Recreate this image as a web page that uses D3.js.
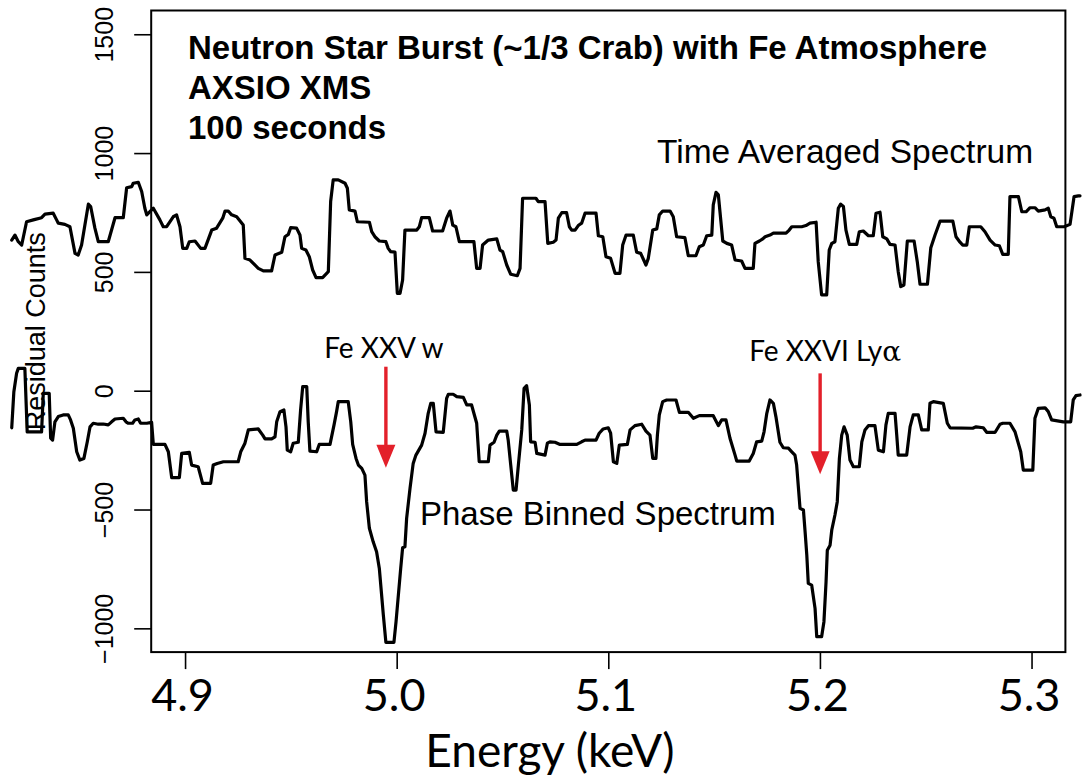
<!DOCTYPE html>
<html>
<head>
<meta charset="utf-8">
<script src="https://cdn.jsdelivr.net/npm/d3@7"></script>
<style>
  html, body { margin: 0; padding: 0; background: #fff; }
  svg { display: block; }
</style>
</head>
<body>
<svg id="chart" width="1087" height="779"></svg>
<script>
// Time-averaged residual spectrum (energy in keV, residual counts)
const timeAvgEnergy = [4.8181,4.8196,4.8212,4.8228,4.8251,4.8283,4.8322,4.8338,4.8377,4.8393,
  4.8401,4.8432,4.8456,4.8480,4.8495,4.8511,4.8543,4.8554,4.8574,4.8590,
  4.8637,4.8669,4.8708,4.8724,4.8748,4.8755,4.8779,4.8795,4.8810,4.8819,
  4.8850,4.8881,4.8897,4.8913,4.8944,4.8960,4.8976,4.8989,4.9008,4.9020,
  4.9047,4.9074,4.9094,4.9126,4.9149,4.9178,4.9189,4.9204,4.9220,4.9244,
  4.9275,4.9283,4.9307,4.9346,4.9370,4.9409,4.9425,4.9457,4.9472,4.9488,
  4.9499,4.9527,4.9543,4.9551,4.9571,4.9587,4.9603,4.9619,4.9650,4.9677,
  4.9688,4.9700,4.9724,4.9756,4.9767,4.9776,4.9803,4.9814,4.9871,4.9882,
  4.9897,4.9918,4.9949,4.9960,4.9972,4.9992,5.0003,5.0016,5.0028,5.0039,
  5.0095,5.0107,5.0118,5.0154,5.0170,5.0217,5.0236,5.0252,5.0265,5.0280,
  5.0296,5.0365,5.0378,5.0394,5.0406,5.0433,5.0473,5.0488,5.0501,5.0520,
  5.0539,5.0570,5.0583,5.0595,5.0658,5.0669,5.0701,5.0714,5.0740,5.0753,
  5.0764,5.0780,5.0803,5.0816,5.0827,5.0843,5.0858,5.0874,5.0890,5.0942,
  5.0953,5.0974,5.0989,5.1011,5.1032,5.1055,5.1068,5.1084,5.1118,5.1134,
  5.1153,5.1178,5.1189,5.1210,5.1229,5.1241,5.1257,5.1292,5.1307,5.1323,
  5.1362,5.1378,5.1414,5.1430,5.1449,5.1465,5.1489,5.1496,5.1509,5.1520,
  5.1541,5.1560,5.1583,5.1599,5.1630,5.1646,5.1685,5.1693,5.1714,5.1730,
  5.1741,5.1764,5.1780,5.1840,5.1855,5.1867,5.1914,5.1934,5.1953,5.1982,
  5.1992,5.2008,5.2032,5.2044,5.2056,5.2071,5.2087,5.2098,5.2111,5.2123,
  5.2139,5.2174,5.2186,5.2205,5.2229,5.2252,5.2265,5.2284,5.2297,5.2316,
  5.2331,5.2355,5.2370,5.2382,5.2397,5.2413,5.2445,5.2460,5.2473,5.2508,
  5.2524,5.2544,5.2568,5.2628,5.2643,5.2662,5.2675,5.2694,5.2706,5.2760,
  5.2780,5.2804,5.2828,5.2848,5.2864,5.2890,5.2898,5.2938,5.2954,5.2974,
  5.2993,5.3016,5.3032,5.3064,5.3079,5.3091,5.3106,5.3119,5.3154,5.3182,
  5.3201,5.3221,5.3229];
const timeAvgCounts = [634,655,627,613,711,719,728,743,747,719,
  705,700,690,578,571,613,785,775,684,627,
  627,728,728,854,859,873,877,838,768,740,
  768,719,690,690,732,740,690,599,599,627,
  630,599,599,676,684,726,756,756,740,732,
  697,557,550,515,504,504,571,583,648,658,
  686,684,655,599,592,564,508,476,476,501,
  796,887,887,873,852,761,756,711,709,669,
  648,630,627,599,585,583,410,410,466,676,
  676,690,728,728,672,672,726,756,697,690,
  627,627,515,515,613,634,639,592,585,529,
  490,484,515,810,810,796,796,620,625,634,
  726,749,749,690,676,676,695,705,747,747,
  652,648,564,557,494,494,613,655,655,583,
  578,529,557,676,681,740,756,756,732,648,
  644,568,568,606,613,652,655,782,835,824,
  630,620,613,550,546,515,515,620,630,639,
  648,655,663,663,676,690,690,695,705,709,
  543,403,403,592,620,627,768,785,775,676,
  616,616,669,672,652,652,747,751,648,639,
  616,613,501,438,445,630,630,543,448,448,
  602,655,714,714,648,625,613,613,690,690,
  669,634,613,610,574,574,817,817,753,753,
  770,770,756,761,768,732,726,690,690,700,
  817,820,820];

// Phase-binned residual spectrum
const phaseEnergy = [4.8181,4.8191,4.8204,4.8212,4.8243,4.8254,4.8322,4.8330,4.8358,4.8365,
  4.8374,4.8385,4.8401,4.8424,4.8448,4.8459,4.8472,4.8488,4.8503,4.8522,
  4.8538,4.8551,4.8566,4.8590,4.8613,4.8637,4.8653,4.8669,4.8708,4.8721,
  4.8732,4.8752,4.8763,4.8779,4.8790,4.8819,4.8842,4.8850,4.8905,4.8921,
  4.8937,4.8973,4.8984,4.9020,4.9031,4.9062,4.9083,4.9121,4.9133,4.9152,
  4.9181,4.9251,4.9263,4.9283,4.9299,4.9346,4.9367,4.9378,4.9409,4.9425,
  4.9433,4.9449,4.9467,4.9477,4.9483,4.9499,4.9511,4.9535,4.9546,4.9556,
  4.9575,4.9582,4.9590,4.9622,4.9634,4.9685,4.9704,4.9716,4.9724,4.9771,
  4.9783,4.9792,4.9808,4.9819,4.9835,4.9850,4.9858,4.9871,4.9889,4.9905,
  4.9918,4.9937,4.9949,4.9987,4.9997,5.0019,5.0028,5.0039,5.0047,5.0063,
  5.0078,5.0091,5.0118,5.0134,5.0149,5.0161,5.0173,5.0186,5.0220,5.0236,
  5.0244,5.0267,5.0284,5.0315,5.0331,5.0354,5.0378,5.0390,5.0433,5.0441,
  5.0460,5.0473,5.0485,5.0520,5.0527,5.0539,5.0551,5.0564,5.0575,5.0591,
  5.0602,5.0614,5.0627,5.0633,5.0654,5.0662,5.0701,5.0712,5.0724,5.0748,
  5.0772,5.0851,5.0874,5.0890,5.0942,5.0957,5.0976,5.1000,5.1011,5.1024,
  5.1040,5.1052,5.1090,5.1103,5.1126,5.1158,5.1178,5.1197,5.1210,5.1225,
  5.1232,5.1241,5.1257,5.1276,5.1320,5.1336,5.1378,5.1402,5.1430,5.1496,
  5.1520,5.1536,5.1556,5.1575,5.1599,5.1607,5.1666,5.1685,5.1701,5.1725,
  5.1736,5.1749,5.1764,5.1780,5.1792,5.1811,5.1827,5.1851,5.1867,5.1882,
  5.1890,5.1898,5.1906,5.1922,5.1930,5.1938,5.1945,5.1961,5.1977,5.1985,
  5.2008,5.2019,5.2029,5.2035,5.2048,5.2056,5.2071,5.2082,5.2092,5.2103,
  5.2114,5.2129,5.2142,5.2158,5.2186,5.2198,5.2213,5.2229,5.2260,5.2276,
  5.2300,5.2312,5.2323,5.2355,5.2363,5.2370,5.2410,5.2426,5.2441,5.2465,
  5.2481,5.2512,5.2520,5.2536,5.2583,5.2602,5.2615,5.2722,5.2738,5.2772,
  5.2788,5.2828,5.2851,5.2864,5.2898,5.2922,5.2949,5.2961,5.3006,5.3016,
  5.3032,5.3064,5.3079,5.3095,5.3150,5.3185,5.3197,5.3210,5.3229];
const phaseCounts = [-156,-4,73,94,94,-173,-173,-11,-11,-200,
  -208,-131,-109,-102,-102,-123,-158,-257,-292,-285,
  -215,-152,-137,-141,-140,-144,-131,-119,-116,-131,
  -137,-137,-123,-119,-137,-137,-133,-226,-226,-257,
  -366,-366,-264,-259,-313,-320,-390,-390,-313,-306,
  -299,-299,-257,-221,-165,-161,-187,-203,-203,-194,
  -131,-88,-81,-152,-250,-257,-221,-217,-81,17,
  17,-131,-254,-257,-226,-226,-144,-88,-46,-46,
  -131,-226,-285,-313,-327,-355,-467,-579,-636,-678,
  -748,-944,-1059,-1059,-972,-748,-661,-657,-537,-411,
  -306,-271,-229,-179,-95,-53,-53,-173,-175,-32,
  -15,-15,-25,-28,-60,-60,-137,-299,-299,-229,
  -217,-187,-170,-170,-208,-313,-418,-418,-313,-165,
  10,21,-60,-215,-217,-264,-271,-221,-215,-217,
  -226,-226,-215,-208,-208,-179,-161,-156,-179,-299,
  -306,-229,-226,-165,-147,-141,-170,-187,-285,-285,
  -187,-102,-46,-39,-39,-91,-91,-116,-105,-105,
  -147,-123,-123,-200,-271,-296,-296,-264,-215,-212,
  -173,-95,-39,-53,-109,-217,-240,-242,-257,-271,
  -313,-404,-495,-502,-594,-692,-811,-818,-916,-1035,
  -1035,-972,-804,-671,-650,-586,-523,-467,-285,-187,
  -152,-187,-292,-320,-320,-215,-165,-147,-147,-250,
  -257,-144,-95,-95,-187,-271,-271,-152,-102,-102,
  -165,-165,-53,-46,-53,-137,-156,-158,-152,-156,
  -175,-175,-141,-137,-137,-173,-257,-334,-334,-116,
  -74,-72,-88,-123,-131,-131,-39,-21,-18];

// Axis ticks
const xTicks = [4.9, 5.0, 5.1, 5.2, 5.3];
const yTicks = [-1000, -500, 0, 500, 1000, 1500];
const xLimits = [4.9, 5.3];
const yLimits = [-1000, 1500];

// Line identifications: label, arrow energy, arrow top / tip (counts)
const lineNames = ["Fe XXV w", "Fe XXVI Ly"];
const lineEnergy = [4.9949, 5.2001];
const arrowTop = [101, 73];
const arrowTip = [-324, -352];

// Title block
const titleLines = ["Neutron Star Burst (~1/3 Crab) with Fe Atmosphere", "AXSIO XMS", "100 seconds"];

const svg = d3.select("#chart");
const plot = { left: 151.2, right: 1065.4, top: 10.5, bottom: 652.1 };
const annoFont = "Lato, 'Open Sans', sans-serif";
const rFont = "'Liberation Sans', Arial, sans-serif";

// R-style 4% padding around the limits
const padX = (xLimits[1] - xLimits[0]) * 0.04;
const padY = (yLimits[1] - yLimits[0]) * 0.04;
const x = d3.scaleLinear().domain([xLimits[0] - padX, xLimits[1] + padX]).range([plot.left, plot.right]);
const y = d3.scaleLinear().domain([yLimits[0] - padY, yLimits[1] + padY]).range([plot.bottom, plot.top]);

const line = d3.line().x(d => x(d[0])).y(d => y(d[1]));

const timeAvg = timeAvgEnergy.map((e, i) => [e, timeAvgCounts[i]]);
const phase = phaseEnergy.map((e, i) => [e, phaseCounts[i]]);

// Spectra (drawn unclipped, they run past the frame)
[timeAvg, phase].forEach(series => {
  svg.append("path").datum(series).attr("d", line)
    .attr("fill", "none").attr("stroke", "#000").attr("stroke-width", 3.2)
    .attr("stroke-linejoin", "round").attr("stroke-linecap", "round");
});

// Frame
svg.append("rect")
  .attr("x", plot.left).attr("y", plot.top)
  .attr("width", plot.right - plot.left).attr("height", plot.bottom - plot.top)
  .attr("fill", "none").attr("stroke", "#000").attr("stroke-width", 2);

// Y axis
const yAxis = svg.append("g").attr("transform", `translate(${plot.left},0)`)
  .call(d3.axisLeft(y).tickValues(yTicks).tickSize(17).tickPadding(0).tickFormat(d3.format("d")));
yAxis.select(".domain").remove();
yAxis.selectAll(".tick line").attr("stroke", "#000").attr("stroke-width", 1.6);
yAxis.selectAll(".tick text")
  .attr("x", null).attr("dy", null)
  .attr("transform", "translate(-38,0) rotate(-90)")
  .attr("text-anchor", "middle")
  .style("font-family", rFont)
  .style("font-size", "25px").attr("fill", "#000");

// X axis
const xAxis = svg.append("g").attr("transform", `translate(0,${plot.bottom})`)
  .call(d3.axisBottom(x).tickValues(xTicks).tickSize(17).tickPadding(0).tickFormat(d3.format(".1f")));
xAxis.select(".domain").remove();
xAxis.selectAll(".tick line").attr("stroke", "#000").attr("stroke-width", 1.6);
xAxis.selectAll(".tick text")
  .attr("x", -3).attr("y", 59).attr("dy", null)
  .style("font-family", annoFont)
  .style("font-size", "45px").attr("fill", "#000");

// Axis titles
svg.append("text")
  .attr("x", 550).attr("y", 767)
  .attr("text-anchor", "middle")
  .style("font-family", annoFont).style("font-size", "46px")
  .text("Energy (keV)");
svg.append("text")
  .attr("transform", `translate(45,${(plot.top + plot.bottom) / 2}) rotate(-90)`)
  .attr("text-anchor", "middle")
  .style("font-family", rFont).style("font-size", "27px")
  .text("Residual Counts");

// Title block
svg.append("g").selectAll("text").data(titleLines).join("text")
  .attr("x", 188).attr("y", (d, i) => 59 + i * 40)
  .style("font-family", rFont)
  .style("font-size", "33px").style("font-weight", "bold")
  .text(d => d);

// Series labels
svg.append("text").attr("x", x(5.1230)).attr("y", y(959))
  .style("font-family", rFont).style("font-size", "33.5px")
  .text("Time Averaged Spectrum");
svg.append("text").attr("x", x(5.0110)).attr("y", y(-565))
  .style("font-family", rFont).style("font-size", "33px")
  .text("Phase Binned Spectrum");

// Arrows marking the Fe lines
const red = "#e3202a";
lineEnergy.forEach((e, i) => {
  const ax = x(e), y0 = y(arrowTop[i]), y1 = y(arrowTip[i]);
  const head = 23, half = 9.5;
  svg.append("line").attr("x1", ax).attr("x2", ax).attr("y1", y0).attr("y2", y1 - head + 2)
    .attr("stroke", red).attr("stroke-width", 3.4);
  svg.append("path")
    .attr("d", `M${ax - half},${y1 - head}L${ax + half},${y1 - head}L${ax},${y1}Z`)
    .attr("fill", red);
});

svg.append("text").attr("x", x(lineEnergy[0]) - 2).attr("y", 358)
  .attr("text-anchor", "middle")
  .style("font-family", annoFont).style("font-size", "28px")
  .text(lineNames[0]);
const lab2 = svg.append("text").attr("x", x(lineEnergy[1]) + 5).attr("y", 361)
  .attr("text-anchor", "middle")
  .style("font-family", annoFont).style("font-size", "28px");
lab2.append("tspan").text(lineNames[1]);
lab2.append("tspan").style("font-family", "'DejaVu Serif', serif").text("\u03b1");
</script>
</body>
</html>
